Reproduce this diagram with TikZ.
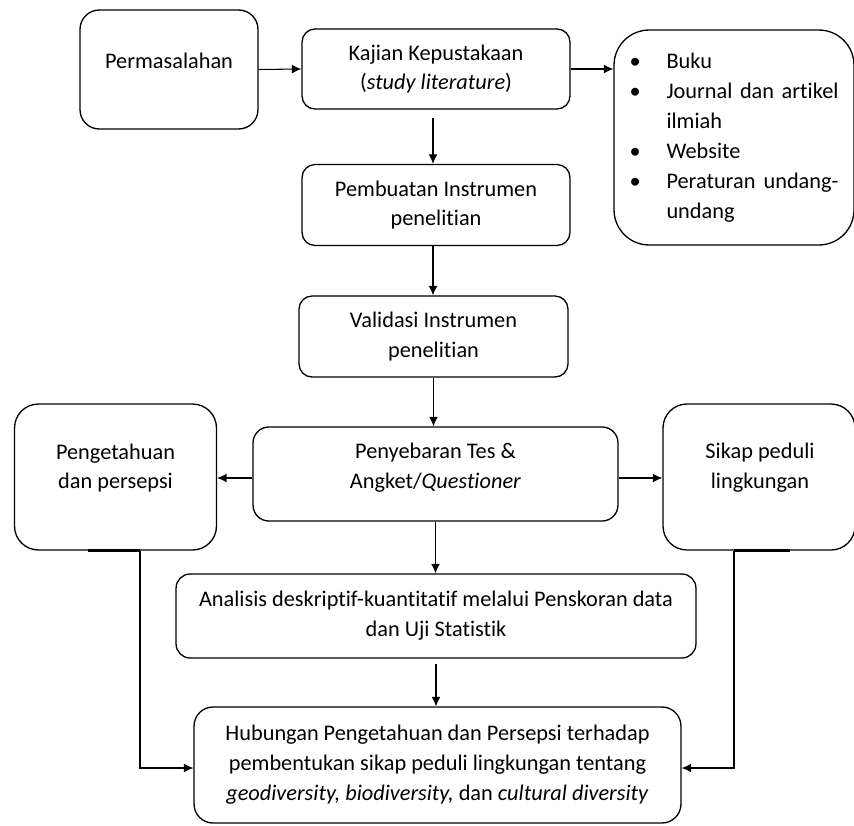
\documentclass[tikz,border=0pt]{standalone}
\usepackage{fontspec}
\setmainfont[Ligatures=NoCommon]{Carlito}
\usepackage{tikz}
\usetikzlibrary{positioning,arrows.meta,calc}

\begin{document}
\begin{tikzpicture}[x=0.02cm, y=-0.02cm,
  every node/.style={font=\fontsize{12.7}{17}\selectfont, align=center},
  kotak/.style={draw, line width=0.75pt, rounded corners=#1, inner sep=0pt},
  kotak/.default=7.4pt,
  panah/.style={-{Latex[length=5.4pt,width=5pt]}, line width=0.6pt},
  alas/.style={line width=1.8pt}]
\useasboundingbox (0,0) rectangle (854,825);

% baris atas
\node[kotak=11pt, minimum width=3.56cm, minimum height=2.38cm] (perm) at (169,69.5) {};
\node (perm-teks) at (169,61) {Permasalahan};
\node[kotak, minimum width=5.36cm, minimum height=1.6cm] (kajian) at (436,69) {Kajian Kepustakaan\\(\textit{study literature})};
\node[kotak=20pt, minimum width=4.8cm, minimum height=4.3cm] (pustaka) at (734,137.5) {%
  \begin{tabular}{@{}p{0.74cm}@{}p{3.44cm}@{}}
  \textbullet & Buku\\
  \textbullet & \makebox[3.44cm][s]{Journal dan artikel}\\
              & ilmiah\\
  \textbullet & Website\\
  \textbullet & \makebox[3.44cm][s]{Peraturan undang-}\\
              & undang
  \end{tabular}};

% instrumen
\node[kotak, minimum width=5.36cm, minimum height=1.62cm] (buat) at (436,205) {Pembuatan Instrumen\\penelitian};
\node[kotak, minimum width=5.38cm, minimum height=1.62cm] (valid) at (433.5,336.5) {Validasi Instrumen\\penelitian};

% penyebaran dan hasil
\node[kotak=13.6pt, minimum width=4.04cm, minimum height=2.92cm] (tahu) at (115.5,477) {};
\node (tahu-teks) at (115.5,468) {Pengetahuan\\dan persepsi};
\node[kotak=9pt, minimum width=7.3cm, minimum height=1.88cm] (sebar) at (435.5,474) {};
\node (sebar-teks) at (435.5,468) {Penyebaran Tes \&\\Angket/\textit{Questioner}};
\node[kotak=13.6pt, minimum width=3.84cm, minimum height=2.92cm] (sikap) at (759,477) {};
\node (sikap-teks) at (760,468) {Sikap peduli\\lingkungan};

% analisis
\node[kotak=8pt, minimum width=10.4cm, minimum height=1.68cm] (analisis) at (436,616) {Analisis deskriptif-kuantitatif melalui Penskoran data\\dan Uji Statistik};
\node[kotak=10.8pt, minimum width=9.74cm, minimum height=2.32cm] (hubungan) at (437.5,765) {Hubungan Pengetahuan dan Persepsi terhadap\\pembentukan sikap peduli lingkungan tentang\\\textit{geodiversity, biodiversity,} dan \textit{cultural diversity}};

% panah
\draw[panah] (perm.east) -- (kajian.west);
\draw[panah] (kajian.east) -- (kajian.east -| pustaka.west);
\draw[panah, shorten <=5pt] ([xshift=-0.06cm]kajian.south) -- ([xshift=-0.06cm]buat.north);
\draw[panah] ([xshift=-0.06cm]buat.south) -- ([xshift=-0.06cm]buat.south |- valid.north);
\draw[panah] (valid.south) -- (valid.south |- sebar.north);
\draw[panah] ([yshift=-0.08cm]sebar.west) -- ([yshift=-0.08cm]sebar.west -| tahu.east);
\draw[panah] ([yshift=-0.08cm]sebar.east) -- ([yshift=-0.08cm]sebar.east -| sikap.west);
\draw[panah] (sebar.south) -- (sebar.south |- analisis.north);
\draw[panah, shorten <=3pt] (analisis.south) -- (analisis.south |- hubungan.north);
\draw[panah] ([xshift=0.49cm]tahu.south) |- ([yshift=-0.06cm]hubungan.west);
\draw[panah] ([xshift=-0.5cm]sikap.south) |- ([yshift=-0.06cm]hubungan.east);
\draw[alas] ([xshift=-0.55cm]tahu.south) -- ([xshift=0.49cm]tahu.south);
\draw[alas] ([xshift=-0.5cm]sikap.south) -- ([xshift=0.62cm]sikap.south);
\end{tikzpicture}
\end{document}
